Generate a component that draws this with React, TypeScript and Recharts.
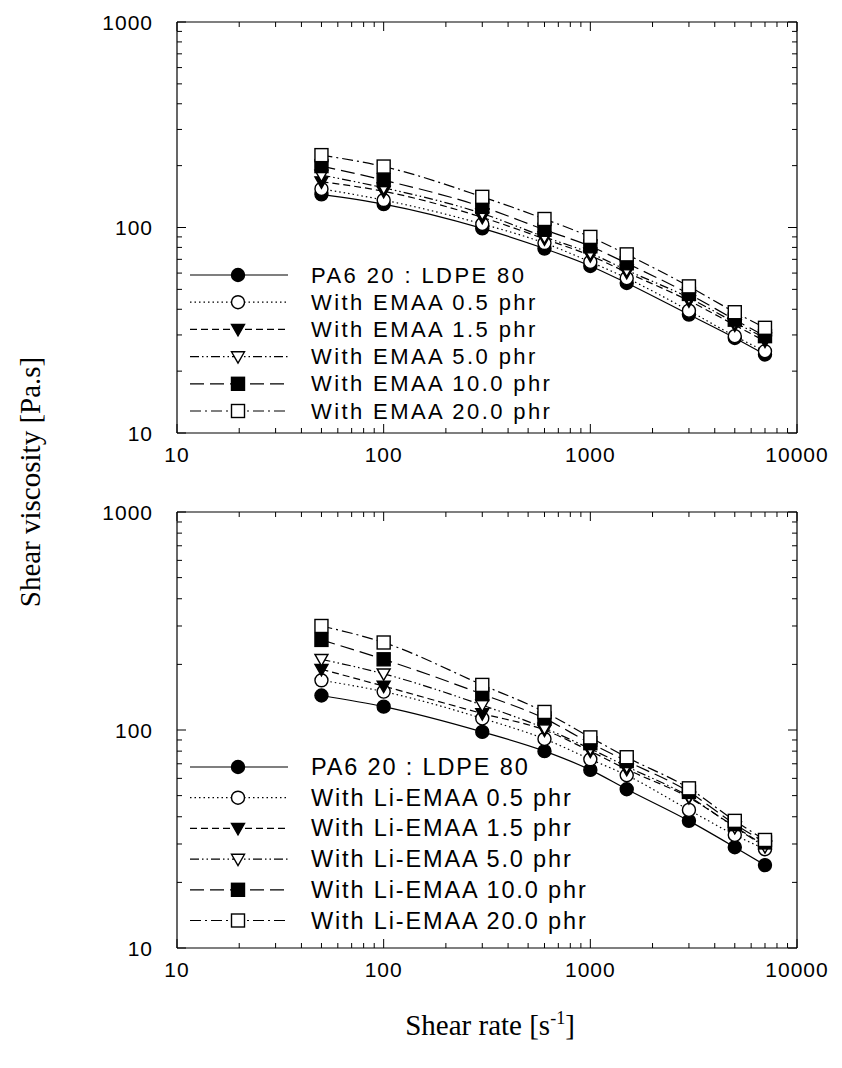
import React from 'react';
import { LineChart, Line, XAxis, YAxis, Legend } from 'recharts';

// shear rate, s^-1
const shearRate = [50, 100, 300, 600, 1000, 1500, 3000, 5000, 7000];

// top panel: EMAA compatibilizer
const blendTop = [145, 130, 99, 79, 65, 53.7, 37.7, 29, 24.1];
const emaa05 = [154, 136, 104, 84, 68, 56.7, 39.4, 29.6, 25];
const emaa15 = [167, 150, 112, 88, 73, 60.5, 44, 33.5, 28];
const emaa50 = [180, 156, 117, 90, 75, 62, 45.5, 34.5, 29];
const emaa10 = [199, 170, 126, 97.5, 81, 67, 47.5, 35.6, 29.6];
const emaa20 = [225, 198, 141, 110, 90, 74, 51.7, 38.7, 32.5];

// bottom panel: Li-EMAA ionomer
const blendBot = [144, 128, 98, 80, 65.6, 53.5, 38.3, 29, 24];
const li05 = [169, 150, 113, 91, 73.4, 62, 43, 33, 28.4];
const li15 = [190, 159, 119, 100, 80, 66, 49, 36, 29.5];
const li50 = [211, 181, 130, 102, 82, 68, 49.5, 35.8, 29.2];
const li10 = [259, 211, 146, 113, 87, 72, 52, 37, 30.5];
const li20 = [300, 252, 161, 121, 92.5, 75, 54, 38.3, 31.3];

const topNames = [
  'PA6 20 : LDPE 80',
  'With EMAA 0.5 phr',
  'With EMAA 1.5 phr',
  'With EMAA 5.0 phr',
  'With EMAA 10.0 phr',
  'With EMAA 20.0 phr',
];
const botNames = [
  'PA6 20 : LDPE 80',
  'With Li-EMAA 0.5 phr',
  'With Li-EMAA 1.5 phr',
  'With Li-EMAA 5.0 phr',
  'With Li-EMAA 10.0 phr',
  'With Li-EMAA 20.0 phr',
];

const xTicks = [10, 20, 30, 40, 50, 60, 70, 80, 90, 100, 200, 300, 400, 500, 600, 700, 800, 900, 1000, 2000, 3000, 4000, 5000, 6000, 7000, 8000, 9000, 10000];
const yTicks = [10, 20, 30, 40, 50, 60, 70, 80, 90, 100, 200, 300, 400, 500, 600, 700, 800, 900, 1000];

type Marker = 'dot' | 'ring' | 'tri' | 'triOpen' | 'sq' | 'sqOpen';
const markers: Marker[] = ['dot', 'ring', 'tri', 'triOpen', 'sq', 'sqOpen'];
const dashes = ['', '1.5 3', '7 4', '9 3 1.5 3 1.5 3', '14 6', '11 4 2 4'];

const isMajor = (v: number) => Math.abs(Math.log10(v) - Math.round(Math.log10(v))) < 1e-9;
const SANS = '"Liberation Sans", Arial, sans-serif';
const SERIF = '"Liberation Serif", "Times New Roman", serif';

function drawMarker(m: Marker, cx: number, cy: number, key?: string) {
  const r = 6.5;
  const common = { stroke: '#000', strokeWidth: 1.4 };
  if (m === 'dot' || m === 'ring')
    return <circle key={key} cx={cx} cy={cy} r={r} fill={m === 'dot' ? '#000' : '#fff'} {...common} />;
  if (m === 'sq' || m === 'sqOpen')
    return <rect key={key} x={cx - r} y={cy - r} width={2 * r} height={2 * r} fill={m === 'sq' ? '#000' : '#fff'} {...common} />;
  const pts = `${cx - r},${cy - r * 0.75} ${cx + r},${cy - r * 0.75} ${cx},${cy + r}`;
  return <polygon key={key} points={pts} fill={m === 'tri' ? '#000' : '#fff'} {...common} />;
}

const BottomTick = (p: any) => {
  const v = p.payload.value;
  const major = isMajor(v);
  return (
    <g>
      <line x1={p.x} x2={p.x} y1={p.y} y2={p.y - (major ? 9 : 5)} stroke="#000" />
      {major && (
        <text x={p.x} y={p.y + 29} textAnchor="middle" fontFamily={SANS} fontSize={21} letterSpacing={1} fill="#000">
          {v}
        </text>
      )}
    </g>
  );
};
const TopTick = (p: any) => {
  const major = isMajor(p.payload.value);
  return <line x1={p.x} x2={p.x} y1={p.y} y2={p.y + (major ? 9 : 5)} stroke="#000" />;
};
const LeftTick = (p: any) => {
  const v = p.payload.value;
  const major = isMajor(v);
  return (
    <g>
      <line x1={p.x} x2={p.x + (major ? 9 : 5)} y1={p.y} y2={p.y} stroke="#000" />
      {major && (
        <text x={p.x - 24} y={p.y} textAnchor="end" dominantBaseline="central" fontFamily={SANS} fontSize={21} letterSpacing={1} fill="#000">
          {v}
        </text>
      )}
    </g>
  );
};
const RightTick = (p: any) => {
  const major = isMajor(p.payload.value);
  return <line x1={p.x} x2={p.x - (major ? 9 : 5)} y1={p.y} y2={p.y} stroke="#000" />;
};

const makeLegend = (names: string[], rowGap: number, fontSize: number, spacing: number) => () => (
  <svg width={440} height={rowGap * 6 + 10}>
    {names.map((n, i) => {
      const y = 14 + i * rowGap;
      return (
        <g key={n}>
          <line x1={5} x2={103} y1={y} y2={y} stroke="#000" strokeWidth={1.2} strokeDasharray={dashes[i] || undefined} />
          {drawMarker(markers[i], 53, y)}
          <text x={126} y={y} dominantBaseline="central" fontFamily={SANS} fontSize={fontSize} letterSpacing={spacing} fill="#000">
            {n}
          </text>
        </g>
      );
    })}
  </svg>
);

type PanelProps = {
  series: number[][];
  names: string[];
  top: number;
  height: number;
  marginBottom: number;
  legendTop: number;
  rowGap: number;
  fontSize: number;
  spacing: number;
};

const Panel = ({ series, names, top, height, marginBottom, legendTop, rowGap, fontSize, spacing }: PanelProps) => {
  const data = shearRate.map((x, i) => {
    const row: Record<string, number> = { x };
    series.forEach((s, k) => (row[`s${k}`] = s[i]));
    return row;
  });
  return (
    <div style={{ position: 'absolute', left: 0, top, width: 842, height }}>
      <LineChart width={842} height={height} data={data} margin={{ top: 17, right: 40, bottom: marginBottom, left: 117 }}>
        <XAxis xAxisId="b" dataKey="x" type="number" scale="log" domain={[10, 10000]} allowDataOverflow ticks={xTicks} interval={0} tickSize={0} tickMargin={0} tickLine={false} tick={BottomTick} height={40} stroke="#000" strokeWidth={1.2} />
        <XAxis xAxisId="t" orientation="top" dataKey="x" type="number" scale="log" domain={[10, 10000]} allowDataOverflow ticks={xTicks} interval={0} tickSize={0} tickMargin={0} tickLine={false} tick={TopTick} height={5} stroke="#000" strokeWidth={1.2} />
        <YAxis yAxisId="l" type="number" scale="log" domain={[10, 1000]} allowDataOverflow ticks={yTicks} interval={0} tickSize={0} tickMargin={0} tickLine={false} tick={LeftTick} width={60} stroke="#000" strokeWidth={1.2} />
        <YAxis yAxisId="r" orientation="right" type="number" scale="log" domain={[10, 1000]} allowDataOverflow ticks={yTicks} interval={0} tickSize={0} tickMargin={0} tickLine={false} tick={RightTick} width={5} stroke="#000" strokeWidth={1.2} />
        <Legend
          layout="vertical"
          align="center"
          verticalAlign="middle"
          content={makeLegend(names, rowGap, fontSize, spacing)}
          wrapperStyle={{ position: 'absolute', left: 185, top: legendTop, width: 440, height: rowGap * 6 + 10 }}
        />
        {series.map((_, k) => (
          <Line
            key={k}
            xAxisId="b"
            yAxisId="l"
            dataKey={`s${k}`}
            name={names[k]}
            type="monotone"
            stroke="#000"
            strokeWidth={1.2}
            strokeDasharray={dashes[k] || undefined}
            dot={(d: any) => drawMarker(markers[k], d.cx, d.cy, `m${k}-${d.index}`)}
            activeDot={false}
            isAnimationActive={false}
          />
        ))}
      </LineChart>
    </div>
  );
};

export default function App() {
  return (
    <div style={{ position: 'absolute', left: 0, top: 0, width: 842, height: 1068, background: '#fff' }}>
      <Panel
        series={[blendTop, emaa05, emaa15, emaa50, emaa10, emaa20]}
        names={topNames}
        top={0}
        height={500}
        marginBottom={27}
        legendTop={261}
        rowGap={27.2}
        fontSize={22}
        spacing={2.4}
      />
      <Panel
        series={[blendBot, li05, li15, li50, li10, li20]}
        names={botNames}
        top={490}
        height={578}
        marginBottom={80}
        legendTop={263}
        rowGap={30.7}
        fontSize={23.5}
        spacing={1.85}
      />
      <div
        style={{
          position: 'absolute',
          left: 30,
          top: 482,
          transform: 'translate(-50%, -50%) rotate(-90deg)',
          fontFamily: SERIF,
          fontSize: 29,
          whiteSpace: 'nowrap',
          color: '#000',
        }}
      >
        Shear viscosity [Pa.s]
      </div>
      <div
        style={{
          position: 'absolute',
          left: 490,
          top: 1025,
          transform: 'translate(-50%, -50%)',
          fontFamily: SERIF,
          fontSize: 29,
          whiteSpace: 'nowrap',
          color: '#000',
        }}
      >
        Shear rate [s<sup style={{ fontSize: 18 }}>-1</sup>]
      </div>
    </div>
  );
}
